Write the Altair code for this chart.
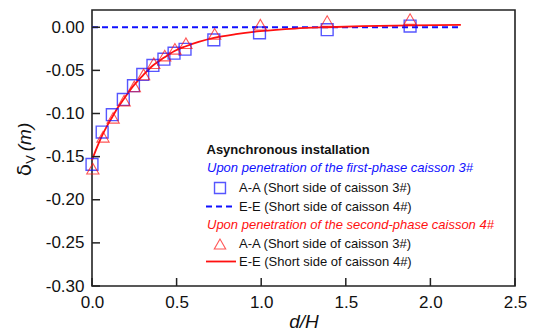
import altair as alt
import pandas as pd

# Measured settlement δV versus normalised distance d/H
aa_first_x = [0.0, 0.06, 0.12, 0.185, 0.245, 0.30, 0.36, 0.425, 0.485, 0.55, 0.72, 0.99, 1.39, 1.88]
aa_first_y = [-0.159, -0.1215, -0.1014, -0.0837, -0.0678, -0.0547, -0.0443, -0.037, -0.0301,
              -0.0255, -0.0146, -0.0065, -0.0028, 0.0014]

aa_second_x = [0.005, 0.065, 0.125, 0.19, 0.25, 0.305, 0.365, 0.43, 0.49, 0.555, 0.725, 0.995, 1.39, 1.88]
aa_second_y = [-0.164, -0.127, -0.105, -0.085, -0.0686, -0.0547, -0.0417, -0.0328, -0.025,
               -0.0185, -0.0076, 0.003, 0.0072, 0.0095]

ee_first_x = [0.0, 2.17]
ee_first_y = [0.0, 0.0]

ee_second_x = [0.0, 0.03, 0.061, 0.09, 0.12, 0.15, 0.185, 0.242, 0.30, 0.36, 0.424, 0.485,
               0.551, 0.63, 0.72, 0.85, 0.993, 1.2, 1.39, 1.6, 1.89, 2.18]
ee_second_y = [-0.154, -0.139, -0.125, -0.114, -0.104, -0.094, -0.084, -0.0686, -0.056, -0.0443,
               -0.0355, -0.0278, -0.0223, -0.017, -0.0123, -0.008, -0.0046, -0.0015, 0.0, 0.0012,
               0.0022, 0.0028]

x_ticks = [0.0, 0.5, 1.0, 1.5, 2.0, 2.5]
y_ticks = [-0.30, -0.25, -0.20, -0.15, -0.10, -0.05, 0.00]

legend_title = "Asynchronous installation"
group_first = "Upon penetration of the first-phase caisson 3#"
group_second = "Upon penetration of the second-phase caisson 4#"
label_aa = "A-A (Short side of caisson 3#)"
label_ee = "E-E (Short side of caisson 4#)"

BLUE = "#1010ff"
RED = "#ff1010"
FONT = "Liberation Sans"
W, H = 423, 276

xs = alt.Scale(domain=[0, 2.5], nice=False, zero=False)
ys = alt.Scale(domain=[-0.30, 0.02], nice=False, zero=False)

x_axis = alt.Axis(values=x_ticks, format=".1f", title="d/H", titleFontStyle="italic",
                  titleFontWeight="normal", titleFontSize=19, titleFont=FONT, titlePadding=2,
                  labelFontSize=17, labelFont=FONT, labelColor="#111", titleColor="#111",
                  labelPadding=8, labelFlush=False, domain=False, ticks=False, grid=False)
y_axis = alt.Axis(values=y_ticks, title="",
                  labelExpr="replace(format(datum.value, '.2f'), '\u2212', '-')",
                  labelFontSize=17, labelFont=FONT, labelColor="#111", labelPadding=8,
                  labelFlush=False, domain=False, ticks=False, grid=False)


def X(field):
    return alt.X(field, scale=xs, axis=x_axis)


def Y(field):
    return alt.Y(field, scale=ys, axis=y_axis)


df_aa1 = pd.DataFrame({"x": aa_first_x, "y": aa_first_y})
df_aa2 = pd.DataFrame({"x": aa_second_x, "y": aa_second_y})
df_ee1 = pd.DataFrame({"x": ee_first_x, "y": ee_first_y})
df_ee2 = pd.DataFrame({"x": ee_second_x, "y": ee_second_y})

ee1 = alt.Chart(df_ee1).mark_line(color=BLUE, strokeWidth=2, strokeDash=[6, 4]).encode(
    x=X("x:Q"), y=Y("y:Q"))
ee2 = alt.Chart(df_ee2).mark_line(color=RED, strokeWidth=1.8, interpolate="monotone").encode(
    x=X("x:Q"), y=Y("y:Q"))
aa1 = alt.Chart(df_aa1).mark_point(shape="square", size=140, color=BLUE, strokeWidth=1.4,
                                   filled=False).encode(x=X("x:Q"), y=Y("y:Q"))
aa2 = alt.Chart(df_aa2).mark_point(shape="triangle-up", size=150, color=RED, strokeWidth=1.1,
                                   filled=False).encode(x=X("x:Q"), y=Y("y:Q"))

# inward tick marks on the left and bottom edges
yt = alt.Chart(pd.DataFrame({"y": y_ticks})).mark_rule(color="#222", strokeWidth=1.5).encode(
    y=Y("y:Q"), x=alt.value(0), x2=alt.value(8))
xt = alt.Chart(pd.DataFrame({"x": x_ticks})).mark_rule(color="#222", strokeWidth=1.5).encode(
    x=X("x:Q"), y=alt.value(H), y2=alt.value(H - 8))


def txt(s, x, y, color="#111", size=13, style="normal", weight="normal", angle=0,
        align="left", font=FONT):
    props = dict(color=color, fontSize=size, fontStyle=style, fontWeight=weight, align=align,
                 baseline="middle", font=font)
    if angle:
        props["angle"] = angle
    return alt.Chart(pd.DataFrame({"t": [s]})).mark_text(**props).encode(
        x=alt.value(x), y=alt.value(y), text="t:N")


one = pd.DataFrame({"k": [0]})

legend = [
    txt(legend_title, 114.5, 140, weight="bold"),
    txt(group_first, 115, 158, color=BLUE, style="italic"),
    alt.Chart(one).mark_point(shape="square", size=120, color=BLUE, strokeWidth=1.4).encode(
        x=alt.value(128), y=alt.value(178)),
    txt(label_aa, 147, 178),
    alt.Chart(one).mark_rule(color=BLUE, strokeWidth=2, strokeDash=[6, 4]).encode(
        x=alt.value(114), x2=alt.value(140), y=alt.value(196.5)),
    txt(label_ee, 147, 196.5),
    txt(group_second, 115, 215, color=RED, style="italic"),
    alt.Chart(one).mark_point(shape="triangle-up", size=130, color=RED, strokeWidth=1.1).encode(
        x=alt.value(128), y=alt.value(234)),
    txt(label_aa, 147, 234),
    alt.Chart(one).mark_rule(color=RED, strokeWidth=1.8).encode(
        x=alt.value(114), x2=alt.value(144), y=alt.value(251.5)),
    txt(label_ee, 147, 251.5),
]

# y-axis title δV (m) with subscript V
ytitle = [
    txt("δ", -67, 160, size=20, angle=270, align="center", font="DejaVu Sans"),
    txt("V", -61.5, 149.5, size=13, angle=270, align="center"),
    txt("(m)", -67, 127, size=19, angle=270, align="center", style="italic"),
]

chart = alt.layer(ee1, ee2, aa1, aa2, yt, xt, *legend, *ytitle).properties(
    width=W, height=H,
    autosize=alt.AutoSizeParams(type="none"),
    padding={"left": 92, "top": 10, "right": 19, "bottom": 50},
).configure_view(stroke="#222", strokeWidth=1.6)

chart.save("out.html", embed_options={"renderer": "svg", "actions": False})
